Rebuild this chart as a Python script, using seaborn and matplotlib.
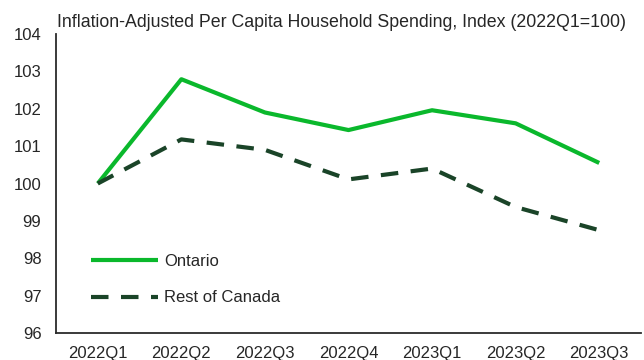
import matplotlib
matplotlib.use("Agg")
import matplotlib.pyplot as plt
import seaborn as sns
import pandas as pd

quarters = ["2022Q1", "2022Q2", "2022Q3", "2022Q4", "2023Q1", "2023Q2", "2023Q3"]
ontario = [100.0, 102.79, 101.90, 101.43, 101.96, 101.61, 100.55]
rest_of_canada = [100.0, 101.18, 100.90, 100.11, 100.40, 99.37, 98.75]
series_names = ["Ontario", "Rest of Canada"]
y_ticks = [96, 97, 98, 99, 100, 101, 102, 103, 104]
title = "Inflation-Adjusted Per Capita Household Spending, Index (2022Q1=100)"

df = pd.DataFrame({
    "quarter": quarters * 2,
    "value": ontario + rest_of_canada,
    "region": [series_names[0]] * len(quarters) + [series_names[1]] * len(quarters),
})

sns.set_theme(style="white")
plt.rcParams["font.family"] = ["Liberation Sans", "DejaVu Sans"]
text_color = "#262626"
fs = 12.0

fig = plt.figure(figsize=(6.44, 3.6), dpi=100)
ax = fig.add_axes([56 / 644, 27 / 360, 585 / 644, 299 / 360])

palette = {"Ontario": "#0AB82C", "Rest of Canada": "#1A4428"}
dashes = {"Ontario": "", "Rest of Canada": (4.2, 3.0)}
sns.lineplot(data=df, x="quarter", y="value", hue="region", style="region",
             palette=palette, dashes=dashes, linewidth=3.0, ax=ax, sort=False)

ax.set_xlim(-0.5, 6.5)
ax.set_ylim(96, 104)
ax.set_yticks(y_ticks)
ax.set_yticklabels([str(t) for t in y_ticks])
ax.set_xlabel("")
ax.set_ylabel("")
ax.tick_params(axis="both", length=0, labelsize=fs, colors=text_color)
ax.tick_params(axis="y", pad=10.5)
ax.tick_params(axis="x", pad=9.5)

for side in ["top", "right"]:
    ax.spines[side].set_visible(False)
for side in ["left", "bottom"]:
    ax.spines[side].set_color("#2b2b2b")
    ax.spines[side].set_linewidth(1.3)

for line in ax.get_lines():
    line.set_solid_capstyle("butt")
    line.set_dash_capstyle("butt")

handles, labels = ax.get_legend_handles_labels()
leg = ax.legend(handles, labels, loc="center left",
                bbox_to_anchor=(91 / 644, 1 - 279.5 / 360),
                bbox_transform=fig.transFigure,
                frameon=False, fontsize=fs, handlelength=4.0,
                handletextpad=0.4, labelspacing=1.3,
                borderpad=0, borderaxespad=0)
for t in leg.get_texts():
    t.set_color(text_color)

fig.text(57 / 644, 1 - 26.7 / 360, title, ha="left", va="baseline",
         fontsize=12.8, color=text_color)

fig.savefig("out.png", dpi=100)
